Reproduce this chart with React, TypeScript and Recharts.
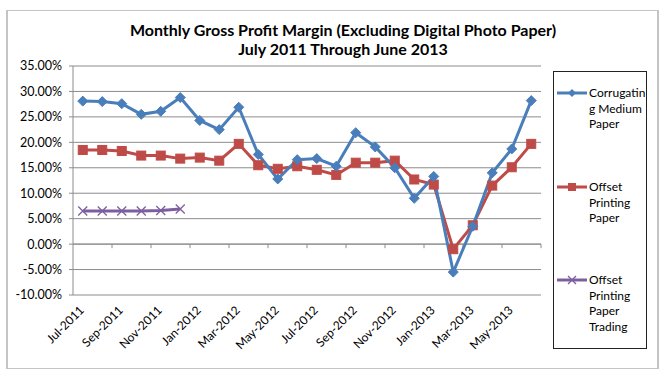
import React from 'react';
import { LineChart, Line, XAxis, YAxis, CartesianGrid, ReferenceLine } from 'recharts';

const months = [
  'Jul-2011', 'Aug-2011', 'Sep-2011', 'Oct-2011', 'Nov-2011', 'Dec-2011',
  'Jan-2012', 'Feb-2012', 'Mar-2012', 'Apr-2012', 'May-2012', 'Jun-2012',
  'Jul-2012', 'Aug-2012', 'Sep-2012', 'Oct-2012', 'Nov-2012', 'Dec-2012',
  'Jan-2013', 'Feb-2013', 'Mar-2013', 'Apr-2013', 'May-2013', 'Jun-2013',
];

const corrugating = [
  28.1, 28.0, 27.6, 25.5, 26.1, 28.8, 24.3, 22.5, 26.9, 17.6, 12.8, 16.6,
  16.8, 15.3, 21.9, 19.1, 15.0, 9.0, 13.3, -5.5, 3.5, 14.0, 18.7, 28.2,
];

const offsetPrinting = [
  18.5, 18.5, 18.3, 17.4, 17.4, 16.8, 17.0, 16.4, 19.7, 15.5, 14.8, 15.3,
  14.6, 13.6, 16.0, 16.0, 16.4, 12.7, 11.7, -1.0, 3.7, 11.5, 15.1, 19.7,
];

const offsetTrading: (number | null)[] = [
  6.5, 6.5, 6.5, 6.5, 6.6, 6.9, null, null, null, null, null, null,
  null, null, null, null, null, null, null, null, null, null, null, null,
];

const yTicks = [-0.1, -0.05, 0, 0.05, 0.1, 0.15, 0.2, 0.25, 0.3, 0.35];
const labelEvery = 2;

const seriesNames = ['Corrugating Medium Paper', 'Offset Printing Paper', 'Offset Printing Paper Trading'];
const legendLines = [
  ['Corrugatin', 'g Medium', 'Paper'],
  ['Offset', 'Printing', 'Paper'],
  ['Offset', 'Printing', 'Paper', 'Trading'],
];

const BLUE = '#4A7EBB';
const RED = '#BE4B48';
const PURPLE = '#7D5FA0';
const GRID = '#8C8C8C';
const FONT = 'Lato, "Open Sans", sans-serif';

const data = months.map((m, i) => ({
  x: i + 0.5,
  month: m,
  cm: corrugating[i] / 100,
  op: offsetPrinting[i] / 100,
  opt: offsetTrading[i] == null ? null : (offsetTrading[i] as number) / 100,
}));

const xTicks = months.map((_, i) => i + 0.5).filter((_, i) => i % labelEvery === 0);
const boundaryTicks = months.map((_, i) => i + 1).filter((b) => b % labelEvery === 0);

const Diamond = (props: any) => {
  const { cx, cy, index } = props;
  if (cx == null || cy == null) return <g key={`d${index}`} />;
  const r = 5;
  return (
    <path key={`d${index}`} d={`M${cx},${cy - r}L${cx + r},${cy}L${cx},${cy + r}L${cx - r},${cy}Z`} fill={BLUE} stroke={BLUE} strokeWidth={1} />
  );
};

const Square = (props: any) => {
  const { cx, cy, index } = props;
  if (cx == null || cy == null) return <g key={`s${index}`} />;
  const r = 4.5;
  return <rect key={`s${index}`} x={cx - r} y={cy - r} width={2 * r} height={2 * r} fill={RED} stroke={RED} strokeWidth={1} />;
};

const Cross = (props: any) => {
  const { cx, cy, index, payload } = props;
  if (cx == null || cy == null || payload == null || payload.opt == null) return <g key={`c${index}`} />;
  const r = 4.5;
  return (
    <path key={`c${index}`} d={`M${cx - r},${cy - r}L${cx + r},${cy + r}M${cx - r},${cy + r}L${cx + r},${cy - r}`} stroke={PURPLE} strokeWidth={1.3} fill="none" />
  );
};

const XTick = (props: any) => {
  const { x, y, payload } = props;
  const idx = Math.round(payload.value - 0.5);
  return (
    <g transform={`translate(${x + 2},${y + 10})`}>
      <text x={0} y={0} textAnchor="end" transform="rotate(-45)" fontSize={12} fontFamily={FONT} fill="#000">
        {months[idx]}
      </text>
    </g>
  );
};

const LegendMark = ({ kind }: { kind: number }) => {
  const color = [BLUE, RED, PURPLE][kind];
  return (
    <svg width={30} height={10} style={{ display: 'block' }}>
      <line x1={0} y1={5} x2={30} y2={5} stroke={color} strokeWidth={3} />
      {kind === 0 && <path d="M15,1L19,5L15,9L11,5Z" fill={color} />}
      {kind === 1 && <rect x={11} y={1} width={8} height={8} fill={color} />}
      {kind === 2 && <path d="M11,1L19,9M11,9L19,1" stroke={color} strokeWidth={1.3} />}
    </svg>
  );
};

const legendTops = [85, 179, 272];

export default function App() {
  return (
    <div style={{ position: 'absolute', left: 0, top: 0, width: 665, height: 376, background: '#fff', fontFamily: FONT }}>
      <div style={{ position: 'absolute', left: 6, top: 10, width: 649, height: 357, border: '1px solid #c4c4c4', borderLeftWidth: 2, borderRightWidth: 2 }} />
      <div style={{ position: 'absolute', left: 80, top: 20, width: 526, textAlign: 'center', fontWeight: 700, fontSize: 16, lineHeight: '19px', color: '#000' }}>
        <div>Monthly Gross Profit Margin (Excluding Digital Photo Paper)</div>
        <div>July 2011 Through June 2013</div>
      </div>
      <div style={{ position: 'absolute', left: 0, top: 0 }}>
        <LineChart width={665} height={376} data={data} margin={{ top: 66, right: 124, bottom: 11, left: 9 }}>
          <CartesianGrid vertical={false} stroke={GRID} strokeWidth={1} />
          <XAxis
            dataKey="x"
            type="number"
            domain={[0, 24]}
            ticks={xTicks}
            interval={0}
            axisLine={false}
            tickLine={false}
            tickMargin={0}
            height={70}
            tick={<XTick />}
          />
          <YAxis
            type="number"
            domain={[-0.1, 0.35]}
            ticks={yTicks}
            interval={0}
            width={64}
            axisLine={{ stroke: GRID }}
            tickLine={{ stroke: GRID }}
            tickSize={4}
            tickMargin={7}
            tickFormatter={(v: number) => `${(v * 100).toFixed(2)}%`}
            tick={{ fontSize: 12.5, fill: '#000', fontFamily: FONT }}
          />
          <ReferenceLine y={0} stroke={GRID} strokeWidth={1} />
          {boundaryTicks.map((b) => (
            <ReferenceLine key={`bt${b}`} segment={[{ x: b, y: 0 }, { x: b, y: -0.008 }]} stroke={GRID} strokeWidth={1} />
          ))}
          <Line name={seriesNames[2]} dataKey="opt" stroke={PURPLE} strokeWidth={3} dot={Cross} activeDot={false} isAnimationActive={false} connectNulls={false} />
          <Line name={seriesNames[1]} dataKey="op" stroke={RED} strokeWidth={3} dot={Square} activeDot={false} isAnimationActive={false} />
          <Line name={seriesNames[0]} dataKey="cm" stroke={BLUE} strokeWidth={3} dot={Diamond} activeDot={false} isAnimationActive={false} />
        </LineChart>
      </div>
      <div style={{ position: 'absolute', left: 553, top: 71, width: 92, height: 276, border: '1px solid #222' }} />
      {legendLines.map((lines, k) => (
        <div key={k} style={{ position: 'absolute', left: 557, top: legendTops[k], display: 'flex', alignItems: 'flex-start' }}>
          <div style={{ marginTop: 3 }}>
            <LegendMark kind={k} />
          </div>
          <div style={{ marginLeft: 2, fontSize: 12, lineHeight: '15.5px', color: '#000' }}>
            {lines.map((t, j) => (
              <div key={j}>{t}</div>
            ))}
          </div>
        </div>
      ))}
    </div>
  );
}
